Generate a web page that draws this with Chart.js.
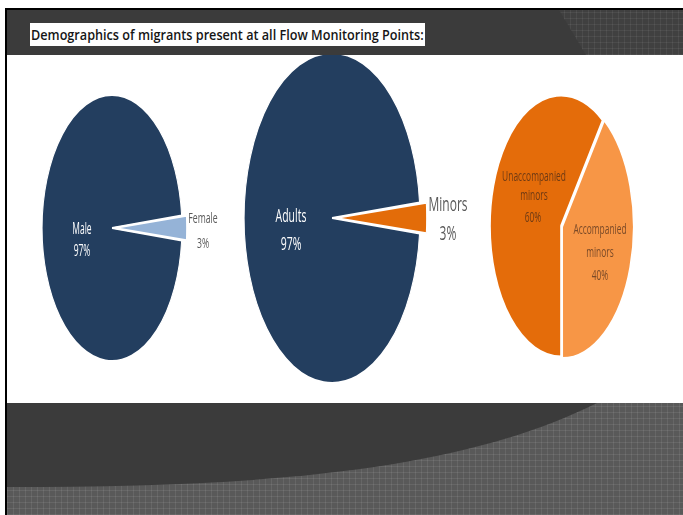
<!DOCTYPE html>
<html>
<head>
<meta charset="utf-8">
<script src="https://cdn.jsdelivr.net/npm/chart.js@4.4.1/dist/chart.umd.min.js"></script>
<style>
  html,body{margin:0;padding:0;}
  body{width:683px;height:515px;position:relative;overflow:hidden;background:#fff;font-family:"Open Sans",sans-serif;}
  .abs{position:absolute;}
  #vline{left:5px;top:8px;width:2px;height:507px;background:#000;z-index:10;}
  #hline{left:5px;top:8px;width:678px;height:2px;background:#000;z-index:10;}
  #header{left:7px;top:10px;width:676px;height:45px;background:#3b3b3b;z-index:5;overflow:hidden;}
  .tex{background-color:#404040;
    background-image:
      repeating-linear-gradient(0deg, rgba(255,255,255,0.06) 0 1px, transparent 1px 6px),
      repeating-linear-gradient(90deg, rgba(255,255,255,0.06) 0 1px, transparent 1px 6px);}
  #texTop{left:545px;top:0;width:140px;height:45px;clip-path:polygon(7px 0,140px 0,140px 45px,34px 45px);}
  #titlebox{left:30px;top:23px;width:395px;height:23px;background:#fff;z-index:6;}
  #title{left:31px;top:23px;height:23px;line-height:23px;font-size:14px;font-weight:600;color:#161616;white-space:nowrap;transform-origin:0 50%;z-index:7;}
  #bottom{left:7px;top:403px;width:676px;height:112px;z-index:5;background-color:#595959;
    background-image:
      repeating-linear-gradient(0deg, rgba(255,255,255,0.08) 0 1px, transparent 1px 6px),
      repeating-linear-gradient(90deg, rgba(255,255,255,0.08) 0 1px, transparent 1px 6px);}
  #bottom svg{position:absolute;left:0;top:0;}
  canvas{position:absolute;}
  .lbl{position:absolute;white-space:nowrap;transform:translate(-50%,-50%) scaleX(var(--sx));line-height:1;z-index:4;}
</style>
</head>
<body>
<div id="header" class="abs"><div id="texTop" class="abs tex"></div></div>
<div id="hline" class="abs"></div>
<div id="vline" class="abs"></div>
<div id="titlebox" class="abs"></div>
<div id="title" class="abs">Demographics of migrants present at all Flow Monitoring Points:</div>
<div id="bottom" class="abs">
  <svg width="676" height="112"><path d="M0,0 L590,0 C450,70 250,84 0,84 Z" fill="#3b3b3b"/></svg>
</div>

<canvas id="c1" width="288" height="288" style="left:-32px;top:84px"></canvas>
<canvas id="c2" width="360" height="360" style="left:152px;top:38px"></canvas>
<canvas id="c3" width="274" height="274" style="left:424px;top:89px"></canvas>

<div class="lbl" style="left:82px;top:227px;font-size:17px;color:#fff;--sx:0.5">Male</div>
<div class="lbl" style="left:82px;top:249px;font-size:17px;color:#fff;--sx:0.5">97%</div>
<div class="lbl" style="left:203px;top:217px;font-size:15px;color:#595959;--sx:0.58">Female</div>
<div class="lbl" style="left:203px;top:242px;font-size:15px;color:#595959;--sx:0.58">3%</div>

<div class="lbl" style="left:291px;top:215px;font-size:19px;color:#fff;--sx:0.55">Adults</div>
<div class="lbl" style="left:291px;top:243px;font-size:19px;color:#fff;--sx:0.55">97%</div>
<div class="lbl" style="left:448px;top:204px;font-size:20px;color:#595959;--sx:0.6">Minors</div>
<div class="lbl" style="left:448px;top:233px;font-size:20px;color:#595959;--sx:0.6">3%</div>

<div class="lbl" style="left:534px;top:175px;font-size:15px;color:#6e3a14;--sx:0.56">Unaccompanied</div>
<div class="lbl" style="left:534px;top:194px;font-size:15px;color:#6e3a14;--sx:0.56">minors</div>
<div class="lbl" style="left:533px;top:216px;font-size:15px;color:#6e3a14;--sx:0.56">60%</div>
<div class="lbl" style="left:600px;top:228px;font-size:15px;color:#7a4a28;--sx:0.56">Accompanied</div>
<div class="lbl" style="left:600px;top:251px;font-size:15px;color:#7a4a28;--sx:0.56">minors</div>
<div class="lbl" style="left:600px;top:274px;font-size:15px;color:#7a4a28;--sx:0.56">40%</div>

<script>
// ---- data ----
const genderLabels = ["Male", "Female"];
const genderValues = [97, 3];
const ageLabels = ["Adults", "Minors"];
const ageValues = [97, 3];
const minorLabels = ["Unaccompanied minors", "Accompanied minors"];
const minorValues = [60, 40];

// fit title width
const t = document.getElementById('title');
t.style.transform = 'scaleX(' + (393 / t.scrollWidth) + ')';

// squash pie horizontally to reproduce the stretched ellipses
const squash = {
  id: 'squash',
  beforeDatasetsDraw(chart, args, opts) {
    const ctx = chart.ctx, a = chart.chartArea;
    const cx = (a.left + a.right) / 2;
    ctx.save();
    ctx.translate(cx, 0);
    ctx.scale(opts.sx, 1);
    ctx.translate(-cx, 0);
  },
  afterDatasetsDraw(chart) { chart.ctx.restore(); }
};

function pie(id, labels, values, colors, offsets, bw, rotation, sx) {
  new Chart(document.getElementById(id), {
    type: 'pie',
    data: { labels: labels, datasets: [{ data: values, backgroundColor: colors, borderColor: '#ffffff', borderWidth: bw, offset: offsets }] },
    options: {
      responsive: false, animation: false, devicePixelRatio: 1,
      rotation: rotation,
      layout: { padding: 0 },
      plugins: { legend: { display: false }, tooltip: { enabled: false }, squash: { sx: sx } }
    },
    plugins: [squash]
  });
}

pie('c1', genderLabels, genderValues, ['#233e5f', '#95b3d7'], [0, 20], 2, 90 + genderValues[1] * 1.8, 0.526);
pie('c2', ageLabels, ageValues, ['#233e5f', '#e36c09'], [0, 28], 2, 90 + ageValues[1] * 1.8, 0.533);
pie('c3', minorLabels, minorValues, ['#e46c0a', '#f79646'], [0, 9], 3, 180, 0.542);
</script>
</body>
</html>
